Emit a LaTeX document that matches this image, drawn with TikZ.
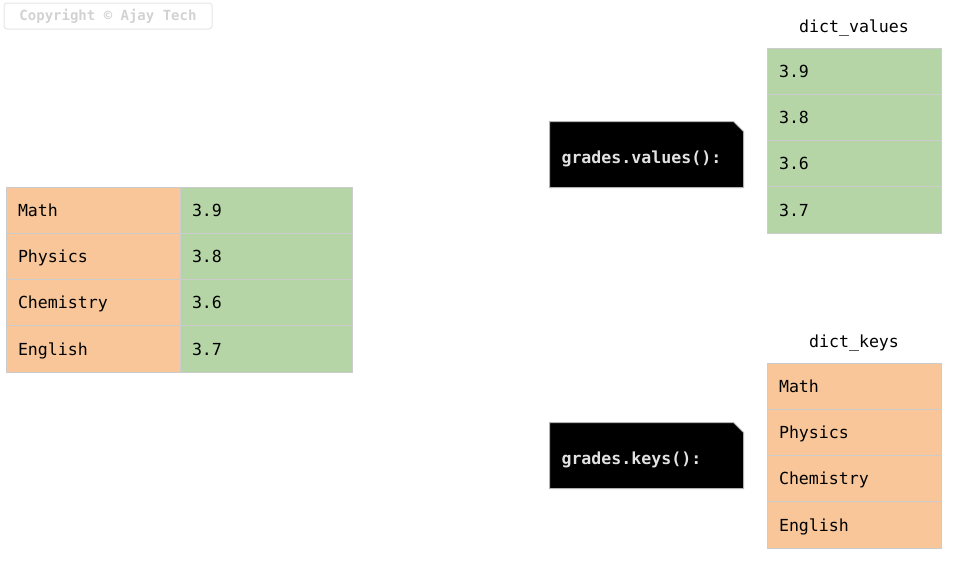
\documentclass[tikz,border=0pt]{standalone}
\usepackage{fontspec}
\setmonofont{DejaVu Sans Mono}
\usepackage{tikz}
\usetikzlibrary{positioning,shapes.misc}
\definecolor{keyfill}{HTML}{F8C699}
\definecolor{valfill}{HTML}{B5D5A6}
\definecolor{cellline}{HTML}{CCCCCC}
\definecolor{calltext}{HTML}{E2E2E2}
\tikzstyle{cell} = [rectangle, draw=cellline, line width=1pt, outer sep=0pt, inner xsep=12pt, inner ysep=0pt, minimum height=46.3pt, text height=15pt, text depth=3pt, align=left, font=\ttfamily\fontsize{16.6}{18}\selectfont]
\tikzstyle{keycell} = [cell, fill=keyfill, text width=150pt]
\tikzstyle{valcell} = [cell, fill=valfill, text width=148pt]
\tikzstyle{call} = [chamfered rectangle, chamfered rectangle corners=north east, chamfered rectangle xsep=5pt, chamfered rectangle ysep=5pt, fill=black, draw=gray!60, line width=1pt, inner xsep=7pt, minimum width=194pt, minimum height=66pt, text width=170pt, text height=20pt, text depth=3pt, align=left, text=calltext, font=\ttfamily\bfseries\fontsize{16.6}{18}\selectfont]
\tikzstyle{title} = [inner sep=0pt, font=\ttfamily\fontsize{16.6}{18}\selectfont]

\begin{document}
\begin{tikzpicture}[x=1pt, y=-1pt]
      \useasboundingbox (0,0) rectangle (968,576);
      % watermark
      \node[draw=gray!20, rounded corners=3pt, line width=1pt, minimum width=208pt, minimum height=26pt, text=gray!35, font=\ttfamily\bfseries\fontsize{14}{16}\selectfont] (copy) at (108,16) {Copyright © Ajay Tech};
      % the dict itself
      \node[keycell, anchor=north west] (math) at (6,187) {Math};
      \node[valcell, right=0pt of math] (mathval) {3.9};
      \node[keycell, below=0pt of math] (phys) {Physics};
      \node[valcell, right=0pt of phys] (physval) {3.8};
      \node[keycell, below=0pt of phys] (chem) {Chemistry};
      \node[valcell, right=0pt of chem] (chemval) {3.6};
      \node[keycell, below=0pt of chem] (eng) {English};
      \node[valcell, right=0pt of eng] (engval) {3.7};
      % values()
      \node[call, anchor=north west] (valcall) at (549,121) {grades.values():};
      \node[valcell, text width=150pt, anchor=north west] (v1) at (767,48) {3.9};
      \node[valcell, text width=150pt, below=0pt of v1] (v2) {3.8};
      \node[valcell, text width=150pt, below=0pt of v2] (v3) {3.6};
      \node[valcell, text width=150pt, below=0pt of v3] (v4) {3.7};
      \node[title, above=11pt of v1] (valtitle) {dict\_values};
      % keys()
      \node[call, anchor=north west] (keycall) at (549,422) {grades.keys():};
      \node[keycell, anchor=north west] (k1) at (767,363) {Math};
      \node[keycell, below=0pt of k1] (k2) {Physics};
      \node[keycell, below=0pt of k2] (k3) {Chemistry};
      \node[keycell, below=0pt of k3] (k4) {English};
      \node[title, above=11pt of k1] (keytitle) {dict\_keys};
    \end{tikzpicture}
\end{document}
